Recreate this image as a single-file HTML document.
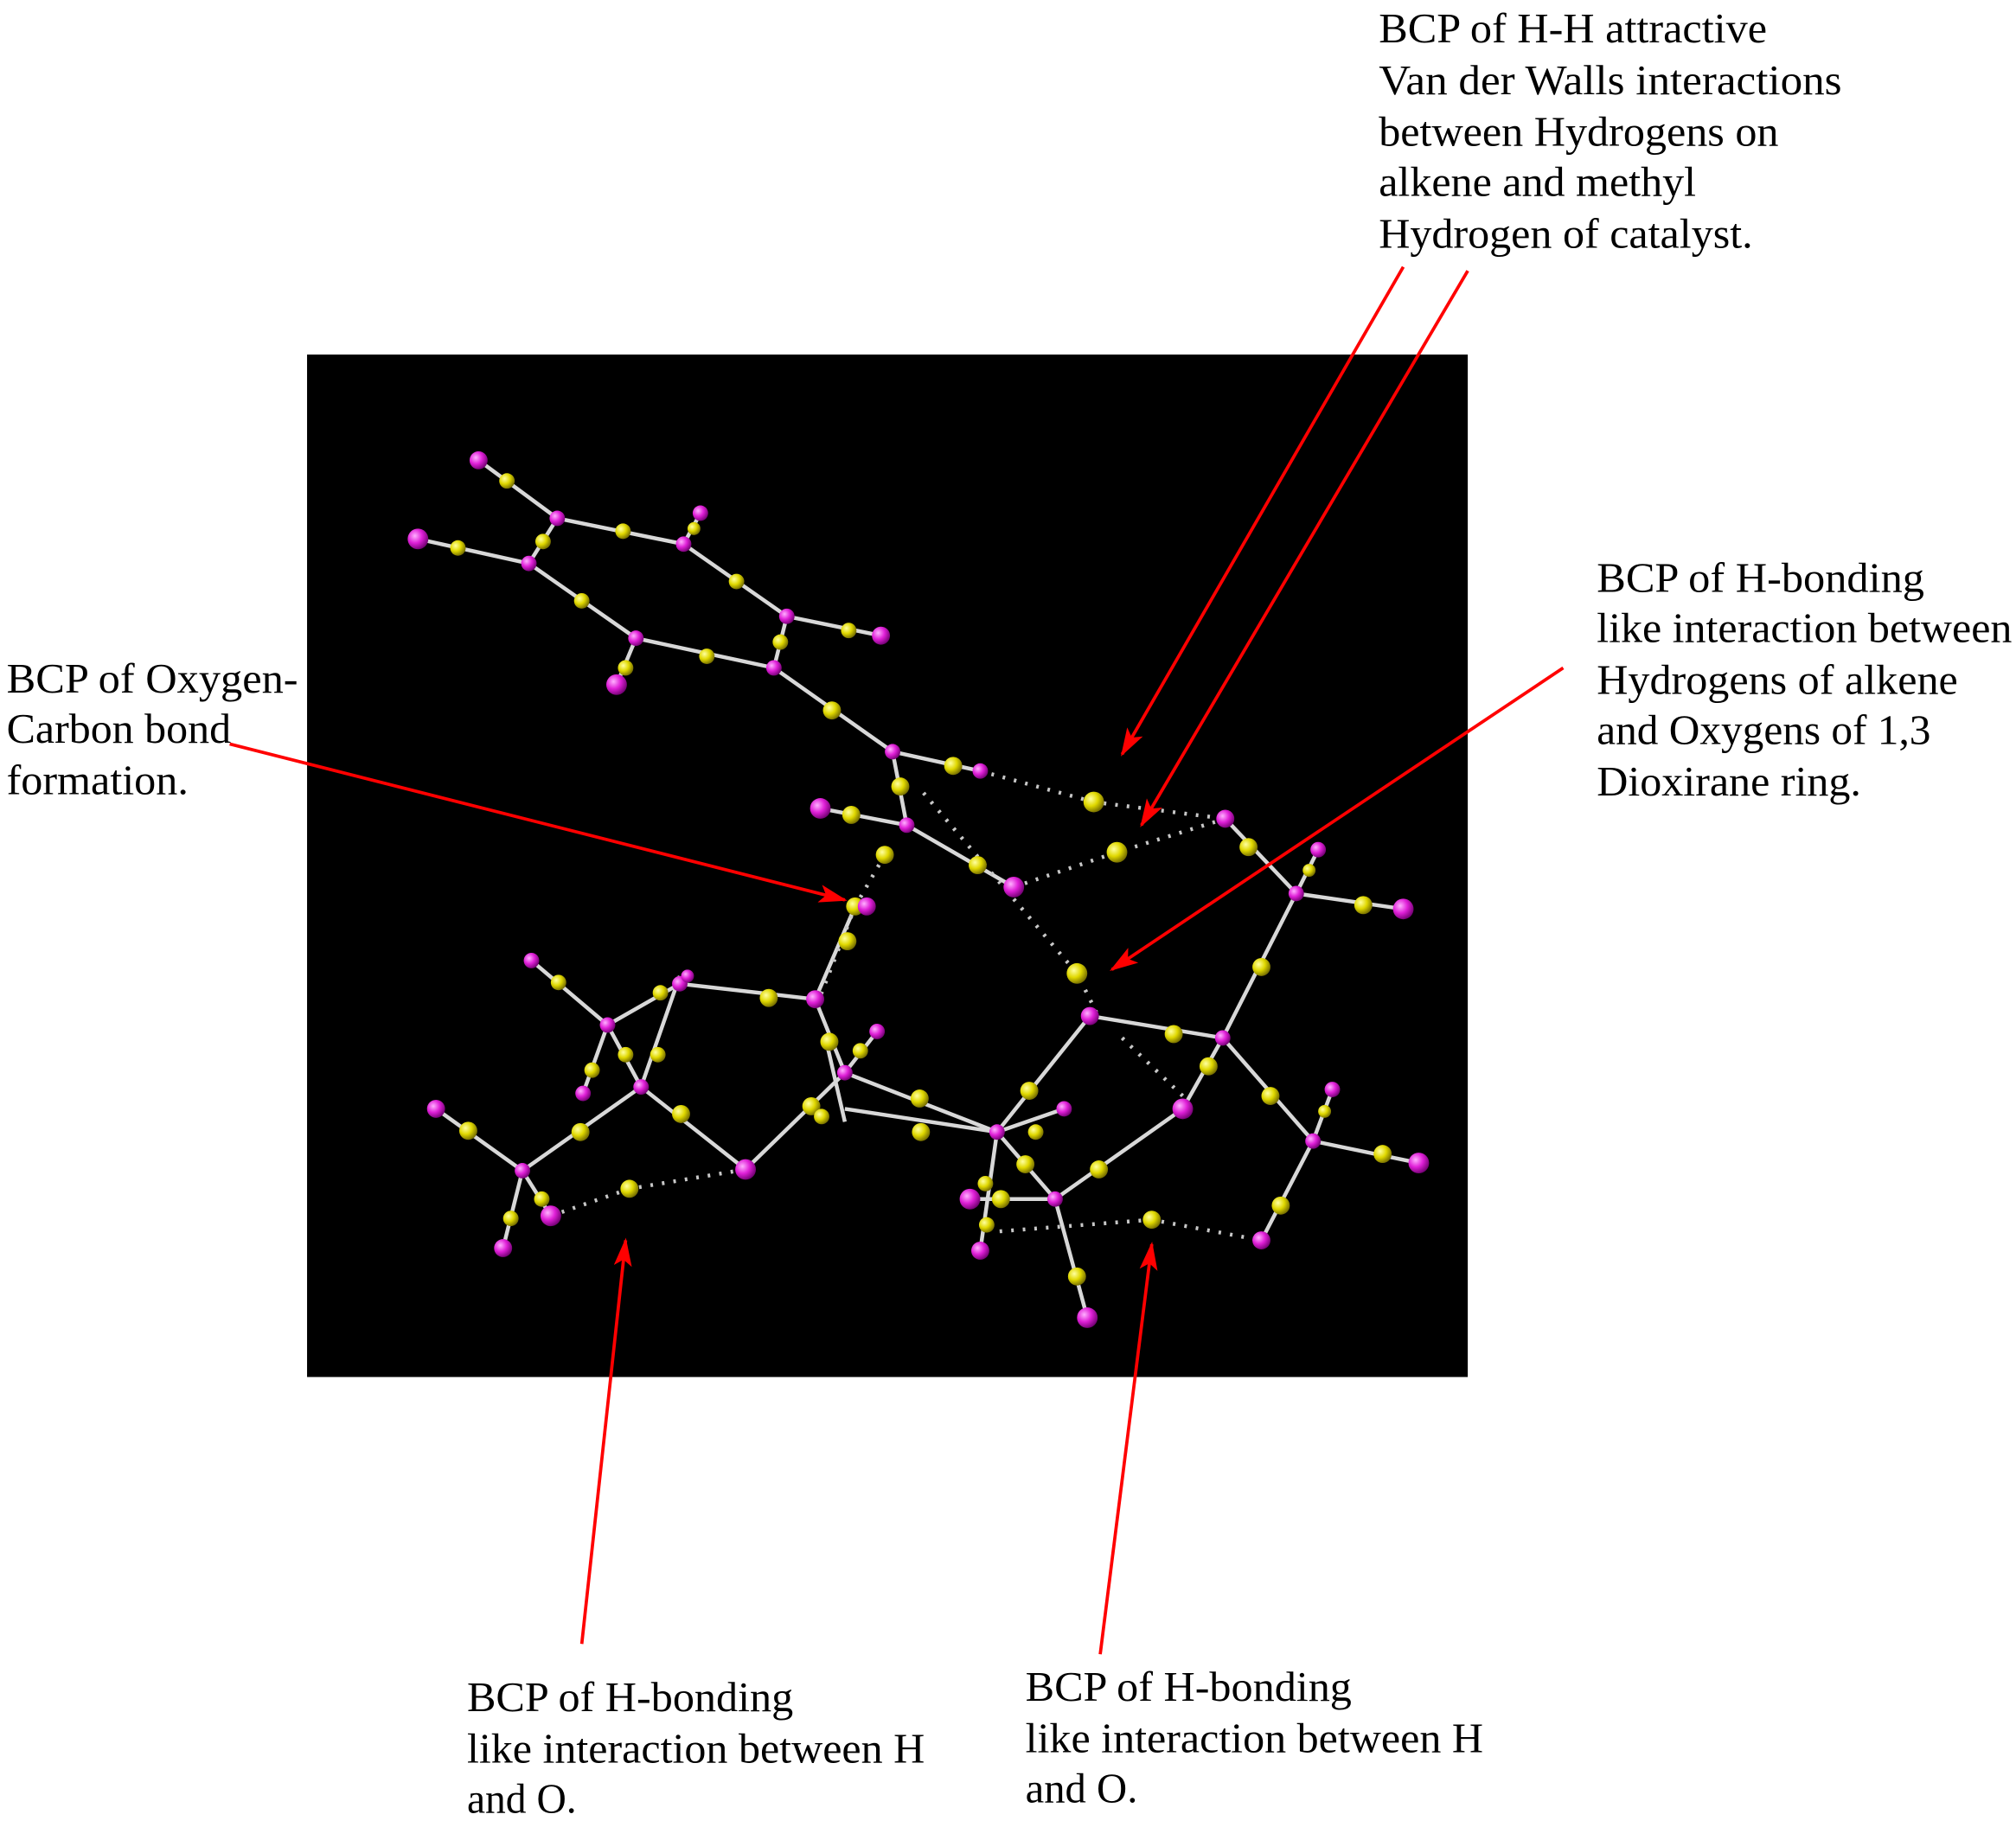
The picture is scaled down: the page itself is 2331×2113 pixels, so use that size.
<!DOCTYPE html>
<html><head><meta charset="utf-8"><style>
html,body{margin:0;padding:0;background:#fff;}
svg{display:block;}
text{font-family:"Liberation Serif",serif;font-size:33px;fill:#000;}
</style></head><body>
<svg width="2331" height="2113" viewBox="0 0 1563 1417" xmlns="http://www.w3.org/2000/svg">
<defs>
<marker id="ah" markerWidth="22" markerHeight="14" refX="20" refY="7" orient="auto" markerUnits="userSpaceOnUse">
<path d="M0,0 L22,7 L0,14 L5,7 Z" fill="#f00"/></marker>
<radialGradient id="m" cx="0.35" cy="0.35" r="0.7"><stop offset="0" stop-color="#ffb0ff"/><stop offset="0.5" stop-color="#e020d8"/><stop offset="1" stop-color="#700070"/></radialGradient>
<radialGradient id="y" cx="0.35" cy="0.35" r="0.7"><stop offset="0" stop-color="#ffffa0"/><stop offset="0.5" stop-color="#e0d800"/><stop offset="1" stop-color="#706800"/></radialGradient>
</defs>
<rect x="238" y="275" width="900" height="793" fill="#000"/>
<g stroke="#d8d8d8" stroke-width="3" fill="none">
<polyline points="432,402 530,422 610,478 600,518 493,495 410,437 432,402"/>
<line x1="371" y1="357" x2="432" y2="402"/><line x1="324" y1="418" x2="410" y2="437"/>
<line x1="543" y1="398" x2="530" y2="422"/><line x1="683" y1="493" x2="610" y2="478"/>
<line x1="478" y1="531" x2="493" y2="495"/>
<polyline points="600,518 692,583 703,640 786,688"/>
<line x1="692" y1="583" x2="760" y2="598"/><line x1="703" y1="640" x2="636" y2="627"/>
<polyline points="950,635 1005,693 1088,705"/><line x1="1005" y1="693" x2="1022" y2="659"/>
<polyline points="1005,693 948,805 845,788 773,878"/>
<polyline points="948,805 917,860 818,930 843,1022"/>
<polyline points="948,805 1018,885 1100,902"/><line x1="1018" y1="885" x2="1033" y2="845"/>
<line x1="1018" y1="885" x2="978" y2="962"/>
<polyline points="632,775 527,763 471,795 412,745"/>
<polyline points="471,795 497,843 527,757"/><line x1="471" y1="795" x2="452" y2="848"/>
<polyline points="497,843 578,907 655,832 632,775 663,703"/>
<polyline points="497,843 405,908 338,860"/><line x1="405" y1="908" x2="427" y2="943"/><line x1="405" y1="908" x2="390" y2="968"/>
<polyline points="655,832 773,878 818,930 760,930 752,930"/><line x1="655" y1="832" x2="680" y2="800"/>
<line x1="655" y1="860" x2="773" y2="878"/><line x1="773" y1="878" x2="825" y2="860"/>
<line x1="773" y1="878" x2="760" y2="970"/><line x1="640" y1="805" x2="655" y2="870"/>
</g>
<g stroke="#c8c8c8" stroke-width="3" stroke-dasharray="2,7" fill="none">
<polyline points="760,598 848,622 950,635"/><polyline points="786,688 866,661 950,635"/>
<polyline points="716,615 835,755 850,785"/><polyline points="686,663 663,703 635,775"/>
<polyline points="775,955 893,946 978,962"/><polyline points="427,943 488,922 578,907"/>
<line x1="870" y1="805" x2="917" y2="850"/>
</g>
<g fill="url(#y)">
<circle cx="393" cy="373" r="6"/><circle cx="355" cy="425" r="6"/><circle cx="483" cy="412" r="6"/><circle cx="571" cy="451" r="6"/><circle cx="548" cy="509" r="6"/><circle cx="451" cy="466" r="6"/><circle cx="421" cy="420" r="6"/><circle cx="658" cy="489" r="6"/><circle cx="485" cy="518" r="6"/><circle cx="605" cy="498" r="6"/><circle cx="538" cy="410" r="5"/>
<circle cx="645" cy="551" r="7"/><circle cx="698" cy="610" r="7"/><circle cx="739" cy="594" r="7"/><circle cx="660" cy="632" r="7"/><circle cx="758" cy="671" r="7"/><circle cx="686" cy="663" r="7"/><circle cx="663" cy="703" r="7"/><circle cx="657" cy="730" r="7"/>
<circle cx="848" cy="622" r="8"/><circle cx="866" cy="661" r="8"/><circle cx="835" cy="755" r="8"/>
<circle cx="968" cy="657" r="7"/><circle cx="1057" cy="702" r="7"/><circle cx="978" cy="750" r="7"/><circle cx="1015" cy="675" r="5"/>
<circle cx="910" cy="802" r="7"/><circle cx="798" cy="846" r="7"/><circle cx="937" cy="827" r="7"/><circle cx="985" cy="850" r="7"/><circle cx="1072" cy="895" r="7"/><circle cx="993" cy="935" r="7"/><circle cx="1027" cy="862" r="5"/>
<circle cx="852" cy="907" r="7"/><circle cx="835" cy="990" r="7"/><circle cx="893" cy="946" r="7"/>
<circle cx="596" cy="774" r="7"/><circle cx="433" cy="762" r="6"/><circle cx="485" cy="818" r="6"/><circle cx="459" cy="830" r="6"/><circle cx="510" cy="818" r="6"/><circle cx="528" cy="864" r="7"/><circle cx="450" cy="878" r="7"/><circle cx="363" cy="877" r="7"/><circle cx="420" cy="930" r="6"/><circle cx="396" cy="945" r="6"/><circle cx="488" cy="922" r="7"/><circle cx="512" cy="770" r="6"/>
<circle cx="629" cy="858" r="7"/><circle cx="643" cy="808" r="7"/><circle cx="713" cy="852" r="7"/><circle cx="714" cy="878" r="7"/><circle cx="637" cy="866" r="6"/><circle cx="667" cy="815" r="6"/>
<circle cx="795" cy="903" r="7"/><circle cx="776" cy="930" r="7"/><circle cx="765" cy="950" r="6"/><circle cx="803" cy="878" r="6"/><circle cx="764" cy="918" r="6"/>
</g>
<g fill="url(#m)">
<circle cx="371" cy="357" r="7"/><circle cx="324" cy="418" r="8"/><circle cx="432" cy="402" r="6"/><circle cx="530" cy="422" r="6"/><circle cx="543" cy="398" r="6"/><circle cx="610" cy="478" r="6"/><circle cx="600" cy="518" r="6"/><circle cx="683" cy="493" r="7"/><circle cx="493" cy="495" r="6"/><circle cx="410" cy="437" r="6"/><circle cx="478" cy="531" r="8"/>
<circle cx="692" cy="583" r="6"/><circle cx="703" cy="640" r="6"/><circle cx="760" cy="598" r="6"/><circle cx="636" cy="627" r="8"/><circle cx="786" cy="688" r="8"/><circle cx="672" cy="703" r="7"/>
<circle cx="950" cy="635" r="7"/><circle cx="1005" cy="693" r="6"/><circle cx="1022" cy="659" r="6"/><circle cx="1088" cy="705" r="8"/><circle cx="948" cy="805" r="6"/><circle cx="845" cy="788" r="7"/><circle cx="917" cy="860" r="8"/>
<circle cx="1018" cy="885" r="6"/><circle cx="1033" cy="845" r="6"/><circle cx="1100" cy="902" r="8"/><circle cx="978" cy="962" r="7"/>
<circle cx="818" cy="930" r="6"/><circle cx="843" cy="1022" r="8"/><circle cx="773" cy="878" r="6"/><circle cx="825" cy="860" r="6"/><circle cx="752" cy="930" r="8"/><circle cx="760" cy="970" r="7"/>
<circle cx="632" cy="775" r="7"/><circle cx="527" cy="763" r="6"/><circle cx="533" cy="757" r="5"/><circle cx="471" cy="795" r="6"/><circle cx="412" cy="745" r="6"/><circle cx="497" cy="843" r="6"/><circle cx="452" cy="848" r="6"/>
<circle cx="405" cy="908" r="6"/><circle cx="338" cy="860" r="7"/><circle cx="427" cy="943" r="8"/><circle cx="390" cy="968" r="7"/><circle cx="578" cy="907" r="8"/><circle cx="655" cy="832" r="6"/><circle cx="680" cy="800" r="6"/>
</g>
<g stroke="#f00" stroke-width="2.5" marker-end="url(#ah)">
<line x1="1088" y1="207" x2="870" y2="585"/>
<line x1="1138" y1="210" x2="885" y2="640"/>
<line x1="1212" y1="518" x2="862" y2="752"/>
<line x1="178" y1="577" x2="655" y2="698"/>
<line x1="451" y1="1275" x2="485" y2="962"/>
<line x1="853" y1="1283" x2="893" y2="965"/>
</g>
<g lengthAdjust="spacingAndGlyphs">
<text x="1069" y="33" textLength="301" lengthAdjust="spacingAndGlyphs">BCP of H-H attractive</text>
<text x="1069" y="73" textLength="359" lengthAdjust="spacingAndGlyphs">Van der Walls interactions</text>
<text x="1069" y="113" textLength="310" lengthAdjust="spacingAndGlyphs">between Hydrogens on</text>
<text x="1069" y="152" textLength="246" lengthAdjust="spacingAndGlyphs">alkene and methyl</text>
<text x="1069" y="192" textLength="290" lengthAdjust="spacingAndGlyphs">Hydrogen of catalyst.</text>
<text x="1238" y="459" textLength="254" lengthAdjust="spacingAndGlyphs">BCP of H-bonding</text>
<text x="1238" y="498" textLength="322" lengthAdjust="spacingAndGlyphs">like interaction between</text>
<text x="1238" y="538" textLength="280" lengthAdjust="spacingAndGlyphs">Hydrogens of alkene</text>
<text x="1238" y="577" textLength="259" lengthAdjust="spacingAndGlyphs">and Oxygens of 1,3</text>
<text x="1238" y="617" textLength="205" lengthAdjust="spacingAndGlyphs">Dioxirane ring.</text>
<text x="5" y="537" textLength="226" lengthAdjust="spacingAndGlyphs">BCP of Oxygen-</text>
<text x="5" y="576" textLength="174" lengthAdjust="spacingAndGlyphs">Carbon bond</text>
<text x="5" y="616" textLength="141" lengthAdjust="spacingAndGlyphs">formation.</text>
<text x="362" y="1327" textLength="253" lengthAdjust="spacingAndGlyphs">BCP of H-bonding</text>
<text x="362" y="1367" textLength="355" lengthAdjust="spacingAndGlyphs">like interaction between H</text>
<text x="362" y="1406" textLength="85" lengthAdjust="spacingAndGlyphs">and O.</text>
<text x="795" y="1319" textLength="253" lengthAdjust="spacingAndGlyphs">BCP of H-bonding</text>
<text x="795" y="1359" textLength="355" lengthAdjust="spacingAndGlyphs">like interaction between H</text>
<text x="795" y="1398" textLength="87" lengthAdjust="spacingAndGlyphs">and O.</text>
</g>
</svg>
</body></html>
